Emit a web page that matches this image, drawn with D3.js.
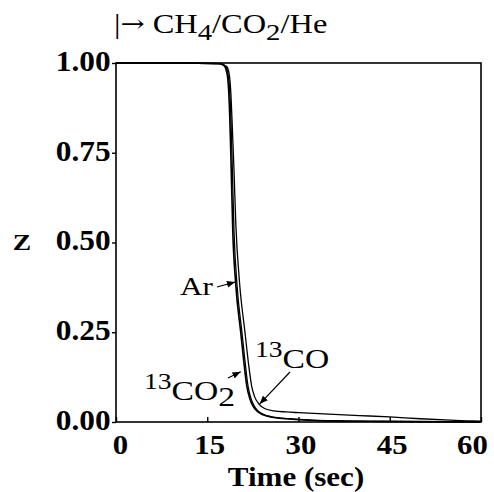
<!DOCTYPE html>
<html>
<head>
<meta charset="utf-8">
<script src="https://cdn.jsdelivr.net/npm/d3@7"></script>
<style>
  html, body { margin: 0; padding: 0; background: #fff; }
  svg { display: block; }
  text { font-family: "Liberation Serif", "Times New Roman", serif; fill: #000; }
</style>
</head>
<body>
<svg id="chart" width="494" height="492"></svg>
<script>
// Step response: normalised concentration Z versus time after the switch
const arTime   = [0, 10, 17, 17.8, 18.2, 18.5, 18.7, 18.9, 19.2, 19.7, 20.5, 21.0, 21.5, 22.0, 22.5, 23.2, 24.2, 25.5, 28, 32, 36, 42, 50, 60];
const arZ      = [1.0, 1.0, 0.998, 0.992, 0.975, 0.93, 0.85, 0.73, 0.53, 0.38, 0.25, 0.17, 0.10, 0.065, 0.045, 0.03, 0.02, 0.014, 0.009, 0.005, 0.003, 0.002, 0.001, 0.0];
const co2Time  = [0, 10, 17, 18.0, 18.4, 18.7, 18.9, 19.1, 19.4, 19.9, 20.7, 21.2, 21.7, 22.2, 22.7, 23.4, 24.4, 25.7, 28.5, 32, 36, 42, 50, 60];
const co2Z     = [1.0, 1.0, 0.998, 0.99, 0.97, 0.92, 0.84, 0.72, 0.53, 0.38, 0.25, 0.17, 0.10, 0.065, 0.045, 0.03, 0.02, 0.014, 0.009, 0.005, 0.003, 0.002, 0.001, 0.0];
const coTime   = [0, 10, 17, 18.2, 18.6, 18.9, 19.1, 19.4, 19.7, 20.3, 21.2, 21.8, 22.3, 22.8, 23.5, 24.5, 26, 28, 30, 35, 40, 45, 50, 55, 58.7, 60];
const coZ      = [1.0, 1.0, 0.998, 0.99, 0.97, 0.91, 0.83, 0.70, 0.55, 0.39, 0.25, 0.16, 0.10, 0.07, 0.05, 0.037, 0.031, 0.028, 0.026, 0.022, 0.018, 0.014, 0.009, 0.005, 0.003, 0.002];

const xTicks = [0, 15, 30, 45, 60];
const yTicks = [0, 0.25, 0.5, 0.75, 1.0];

const svg = d3.select("#chart");
const m = { left: 116, right: 481, top: 63, bottom: 422 };
const SX = 1.2; // horizontal stretch of the typeface

const x = d3.scaleLinear().domain([0, 60]).range([m.left, m.right]);
const y = d3.scaleLinear().domain([0, 1]).range([m.bottom, m.top]);

// text placed at (px,py), widened by sx around its anchor
function label(px, py, size, anchor, weight, sx) {
  return svg.append("text")
    .attr("transform", `translate(${px},${py}) scale(${sx || SX},1)`)
    .attr("font-size", size)
    .attr("text-anchor", anchor || "start")
    .attr("font-weight", weight || "normal");
}

// frame
svg.append("rect")
  .attr("x", m.left).attr("y", m.top)
  .attr("width", m.right - m.left).attr("height", m.bottom - m.top)
  .attr("fill", "none").attr("stroke", "#000").attr("stroke-width", 1.6);

// bottom axis: ticks point inward
const xAxis = svg.append("g")
  .attr("transform", `translate(0,${m.bottom})`)
  .call(d3.axisBottom(x).tickValues(xTicks).tickSizeInner(-5).tickSizeOuter(0).tickPadding(12).tickFormat(d3.format("d")));
xAxis.select(".domain").remove();
xAxis.selectAll("line").attr("stroke-width", 1.4);
xAxis.selectAll("text")
  .attr("font-size", 28).attr("font-weight", "bold")
  .attr("font-family", "Liberation Serif, serif")
  .attr("transform", d => `translate(${d === 60 ? -9 : (d === 0 ? 4 : 2)},0) scale(1.1,1)`);

// left axis: short outward ticks
const yAxis = svg.append("g")
  .attr("transform", `translate(${m.left},0)`)
  .call(d3.axisLeft(y).tickValues(yTicks).tickSizeInner(4).tickSizeOuter(0).tickPadding(1).tickFormat(d3.format(".2f")));
yAxis.select(".domain").remove();
yAxis.selectAll("line").attr("stroke-width", 1.4);
yAxis.selectAll("text")
  .attr("font-size", 29).attr("font-weight", "bold")
  .attr("font-family", "Liberation Serif, serif")
  .attr("dy", "0.25em")
  .attr("transform", "scale(1.08,1)");

// axis titles
label(296, 486, 27, "middle", "bold", 1.15).text("Time (sec)");
label(22, 250, 23, "middle", "bold").text("Z");

// header
const head = label(114, 33, 27, "start");
head.append("tspan").text("|");
head.append("tspan").attr("font-family", "DejaVu Serif, serif").attr("font-size", 24).attr("dy", -1).text("\u2192");
head.append("tspan").attr("dy", 1).text(" CH");
head.append("tspan").attr("dy", 7).attr("font-size", 24).text("4");
head.append("tspan").attr("dy", -7).text("/CO");
head.append("tspan").attr("dy", 7).attr("font-size", 24).text("2");
head.append("tspan").attr("dy", -7).text("/He");

// curves
const line = d3.line().x(d => x(d[0])).y(d => y(d[1])).curve(d3.curveMonotoneX);
const series = [
  { t: arTime, z: arZ, w: 1.6 },
  { t: co2Time, z: co2Z, w: 1.3 },
  { t: coTime, z: coZ, w: 1.3 }
];
series.forEach(s => {
  svg.append("path")
    .datum(s.t.map((t, i) => [t, s.z[i]]))
    .attr("d", line)
    .attr("fill", "none").attr("stroke", "#000").attr("stroke-width", s.w);
});

// arrowheads
svg.append("defs").append("marker")
  .attr("id", "ah").attr("viewBox", "0 0 10 10")
  .attr("refX", 10).attr("refY", 5)
  .attr("markerWidth", 7).attr("markerHeight", 7)
  .attr("orient", "auto")
  .append("path").attr("d", "M0,1 L10,5 L0,9 Z").attr("fill", "#000");

function arrow(x1, y1, tx, tz) {
  svg.append("line")
    .attr("x1", x1).attr("y1", y1)
    .attr("x2", x(tx)).attr("y2", y(tz))
    .attr("stroke", "#000").attr("stroke-width", 1.2)
    .attr("marker-end", "url(#ah)");
}

// labels on the curves
label(180, 295, 26).text("Ar");
arrow(217, 287, 19.6, 0.39);

const lco = label(255, 368, 28);
lco.append("tspan").attr("font-size", 23).attr("dy", -11).text("13");
lco.append("tspan").attr("dy", 11).text("CO");
arrow(290, 372, 23.6, 0.05);

const lco2 = label(144, 400, 28);
lco2.append("tspan").attr("font-size", 23).attr("dy", -11).text("13");
lco2.append("tspan").attr("dy", 11).text("CO");
lco2.append("tspan").attr("dy", 6).text("2");
arrow(228, 378, 20.5, 0.14);
</script>
</body>
</html>
